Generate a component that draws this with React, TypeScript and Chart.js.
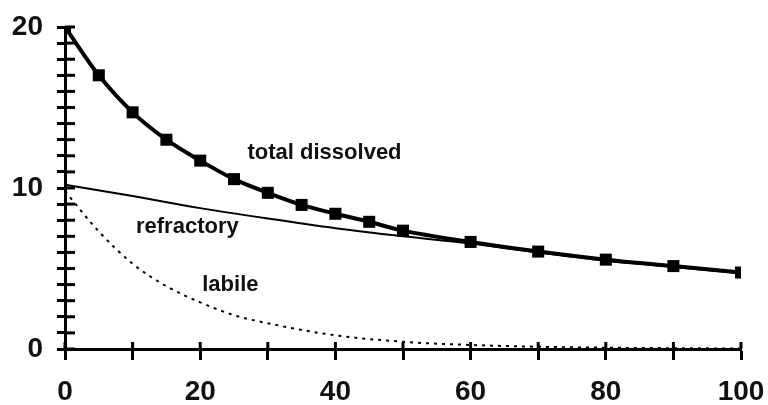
import React, { useEffect, useRef } from "react";
import { Chart, registerables } from "chart.js";

Chart.register(...registerables);

const totalX = [0, 5, 10, 15, 20, 25, 30, 35, 40, 45, 50, 60, 70, 80, 90, 100];
const totalY = [20, 17.0, 14.7, 13.0, 11.7, 10.55, 9.7, 8.95, 8.4, 7.9, 7.35, 6.65, 6.05, 5.55, 5.15, 4.75];

const refractoryX = [0, 10, 20, 30, 40, 50, 60, 70, 80, 90, 100];
const refractoryY = [10.2, 9.5, 8.75, 8.1, 7.5, 7.0, 6.55, 6.0, 5.5, 5.1, 4.7];

const labileX = [0, 5, 10, 15, 20, 25, 30, 40, 50, 60, 70, 80, 90, 100];
const labileY = [9.8, 7.3, 5.3, 3.9, 2.9, 2.1, 1.6, 0.85, 0.45, 0.25, 0.14, 0.08, 0.05, 0.03];

const xTickLabels = [0, 20, 40, 60, 80, 100];
const yTickLabels = [0, 10, 20];

const curveLabels = [
  { text: "total dissolved", x: 27.0, y: 12.2 },
  { text: "refractory", x: 10.5, y: 7.6 },
  { text: "labile", x: 20.3, y: 4.0 },
];

const FONT = "'Liberation Sans', Arial, sans-serif";

const toPoints = (xs: number[], ys: number[]) => xs.map((x, i) => ({ x, y: ys[i] }));

const innerTicks = {
  id: "innerTicks",
  afterDraw(chart: any) {
    const { ctx, chartArea, scales } = chart;
    const xs = scales.x;
    const ys = scales.y;
    ctx.save();
    ctx.strokeStyle = "#000";
    ctx.lineWidth = 3;
    ctx.lineCap = "butt";
    ys.ticks.forEach((t: any) => {
      const py = ys.getPixelForValue(t.value);
      ctx.beginPath();
      ctx.moveTo(chartArea.left, py);
      ctx.lineTo(chartArea.left + 10, py);
      ctx.stroke();
    });
    xs.ticks.forEach((t: any) => {
      const px = xs.getPixelForValue(t.value);
      ctx.beginPath();
      ctx.moveTo(px, chartArea.bottom);
      ctx.lineTo(px, chartArea.bottom - 7);
      ctx.stroke();
    });
    ctx.fillStyle = "#111";
    ctx.font = `bold 22px ${FONT}`;
    ctx.textBaseline = "middle";
    ctx.textAlign = "left";
    curveLabels.forEach((l) => {
      ctx.fillText(l.text, xs.getPixelForValue(l.x), ys.getPixelForValue(l.y));
    });
    ctx.restore();
  },
};

export default function App() {
  const ref = useRef<HTMLCanvasElement>(null);
  useEffect(() => {
    if (!ref.current) return;
    const chart = new Chart(ref.current, {
      type: "line",
      data: {
        datasets: [
          {
            label: "total dissolved",
            data: toPoints(totalX, totalY),
            borderColor: "#000",
            backgroundColor: "#000",
            borderWidth: 4,
            pointStyle: "rect",
            pointRadius: 8.5,
            pointBorderWidth: 0,
            cubicInterpolationMode: "monotone",
          },
          {
            label: "refractory",
            data: toPoints(refractoryX, refractoryY),
            borderColor: "#000",
            borderWidth: 2,
            pointRadius: 0,
            cubicInterpolationMode: "monotone",
          },
          {
            label: "labile",
            data: toPoints(labileX, labileY),
            borderColor: "#000",
            borderWidth: 2,
            borderDash: [3, 5],
            pointRadius: 0,
            cubicInterpolationMode: "monotone",
          },
        ],
      },
      options: {
        animation: false,
        responsive: false,
        devicePixelRatio: 1,
        layout: { padding: { top: 27, right: 27, left: 0, bottom: 0 } },
        plugins: { legend: { display: false }, tooltip: { enabled: false } },
        scales: {
          x: {
            type: "linear",
            min: 0,
            max: 100,
            afterFit: (s: any) => {
              s.height = 56;
              s.paddingLeft = 0;
              s.paddingRight = 0;
            },
            border: { display: true, width: 3, color: "#000" },
            grid: {
              drawOnChartArea: false,
              drawTicks: true,
              tickLength: 11,
              tickWidth: 3,
              tickColor: "#000",
            },
            ticks: {
              stepSize: 10,
              autoSkip: false,
              maxRotation: 0,
              padding: 15,
              color: "#111",
              font: { family: FONT, size: 28, weight: "bold" },
              callback: (v: any) => (xTickLabels.includes(Number(v)) ? String(v) : ""),
            },
          },
          y: {
            type: "linear",
            min: 0,
            max: 20,
            afterFit: (s: any) => {
              s.width = 65;
              s.paddingTop = 0;
              s.paddingBottom = 0;
            },
            border: { display: true, width: 3, color: "#000" },
            grid: {
              drawOnChartArea: false,
              drawTicks: true,
              tickLength: 8,
              tickWidth: 3,
              tickColor: "#000",
            },
            ticks: {
              stepSize: 1,
              autoSkip: false,
              padding: 14,
              color: "#111",
              font: { family: FONT, size: 28, weight: "bold" },
              callback: (v: any) => (yTickLabels.includes(Number(v)) ? String(v) : ""),
            },
          },
        },
      },
      plugins: [innerTicks],
    } as any);
    return () => chart.destroy();
  }, []);
  return (
    <div style={{ position: "fixed", left: 0, top: 0, width: 768, height: 405, background: "#fff" }}>
      <canvas ref={ref} width={768} height={405} />
    </div>
  );
}
